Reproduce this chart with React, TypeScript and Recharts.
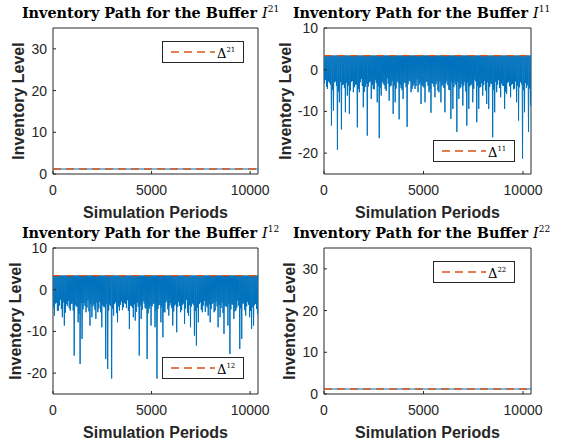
import { LineChart, Line, XAxis, YAxis, ReferenceArea, Legend } from "recharts";

// sampled simulation periods / tick labels
const periodTicks = [0, 5000, 10000];
const flatTicks = [0, 10, 20, 30];
const deepTicks = [-20, -10, 0, 10];

// buffers 21 and 22 sit flat on their target level
const flatPeriods = [0, 10400];
const i21Level = [1.2, 1.2];
const i22Level = [1.2, 1.2];
const delta21 = 1.2;
const delta22 = 1.2;

// buffers 11 and 12: path hits the cap every cycle. per 100 periods one shallow
// "body" trough and one dip/spike
const delta11 = 3.4;
const delta12 = 3.4;

const i11Body = [
  -3.2, -4.1, -2.8, -3.6, -4.8, -3.0, -3.9, -5.2, -2.9, -3.7,
  -4.4, -3.1, -3.8, -5.0, -2.7, -4.2, -3.5, -4.6, -3.0, -3.9,
  -5.3, -3.3, -4.0, -2.8, -3.6, -4.7, -3.2, -3.9, -4.4, -2.9,
  -3.7, -5.1, -3.4, -4.0, -2.7, -3.8, -4.5, -3.1, -3.6, -4.9,
  -3.0, -4.2, -3.5, -2.8, -4.6, -3.3, -3.9, -5.4, -3.1, -3.7,
  -4.3, -2.9, -3.8, -4.7, -3.2, -4.1, -3.5, -5.0, -2.8, -3.9,
  -4.4, -3.3, -3.7, -4.9, -3.0, -4.2, -3.6, -2.9, -4.5, -3.4,
  -3.8, -5.2, -3.1, -4.0, -3.5, -4.6, -2.8, -3.9, -4.3, -3.2,
  -3.7, -5.0, -3.0, -4.1, -3.4, -4.8, -2.9, -3.6, -4.4, -3.3,
  -3.9, -5.3, -3.1, -4.0, -3.6, -4.7, -2.8, -3.8, -4.2, -3.5,
  -4.9, -3.2, -3.7, -4.5, -3.0,
];
const i11Dips = [
  -2.4, -4.6, -3.1, -13.4, -9.8, -2.8, -19.2, -7.8, -14.3, -3.5,
  -10.2, -6.2, -10.6, -2.9, -5.4, -3.6, -13.8, -5.4, -2.2, -9.0,
  -4.1, -15.8, -3.0, -7.0, -4.6, -2.5, -7.8, -16.4, -6.2, -3.3,
  -4.6, -2.1, -7.4, -3.8, -10.6, -7.8, -2.7, -11.9, -4.4, -7.0,
  -3.2, -13.7, -2.6, -5.4, -3.9, -4.6, -2.3, -3.6, -8.2, -4.0,
  -7.8, -2.9, -5.4, -10.3, -3.4, -6.6, -2.8, -5.4, -7.8, -3.5,
  -10.2, -2.6, -4.8, -11.8, -9.4, -3.1, -14.9, -7.0, -4.2, -8.6,
  -2.9, -13.4, -9.4, -3.7, -7.8, -2.4, -12.6, -9.4, -4.1, -6.2,
  -2.7, -8.2, -9.4, -3.3, -16.2, -10.2, -5.4, -2.5, -6.6, -3.8,
  -9.4, -5.8, -2.9, -6.6, -3.4, -4.5, -7.8, -12.2, -3.0, -21.3,
  -10.2, -4.3, -14.9, -8.6, -3.6,
];

const i12Body = [
  -4.2, -3.3, -5.1, -3.8, -4.6, -3.0, -5.5, -3.9, -4.4, -3.4,
  -5.0, -3.6, -4.1, -5.8, -3.2, -4.7, -3.9, -4.3, -5.2, -3.5,
  -4.0, -4.8, -3.1, -4.5, -5.4, -3.7, -4.2, -3.3, -5.0, -3.9,
  -4.6, -3.4, -5.6, -4.0, -3.6, -4.9, -3.2, -4.4, -5.1, -3.8,
  -4.3, -3.5, -5.3, -4.1, -3.7, -4.8, -3.3, -4.5, -5.7, -3.9,
  -4.0, -3.4, -5.0, -4.6, -3.6, -4.2, -5.4, -3.1, -4.7, -3.8,
  -4.4, -5.2, -3.5, -4.1, -3.9, -4.9, -3.3, -4.5, -5.5, -3.7,
  -4.0, -3.6, -5.1, -4.3, -3.4, -4.8, -3.8, -5.3, -4.2, -3.5,
  -4.6, -3.2, -5.0, -4.0, -3.7, -4.4, -5.6, -3.9, -4.1, -3.4,
  -4.7, -3.6, -5.2, -4.3, -3.8, -4.5, -3.3, -4.9, -4.0, -3.6,
  -5.1, -4.2, -3.7, -4.6, -3.9,
];
const i12Dips = [
  -6.2, -3.1, -5.0, -2.4, -6.6, -8.6, -3.4, -2.7, -5.0, -3.3,
  -15.8, -4.0, -7.8, -17.8, -11.8, -3.2, -5.4, -2.6, -8.6, -6.6,
  -3.5, -7.0, -5.4, -2.9, -9.0, -4.1, -16.6, -19.0, -3.6, -21.3,
  -6.2, -3.0, -7.8, -5.0, -2.8, -4.2, -3.4, -2.5, -9.4, -3.9,
  -6.6, -7.4, -3.1, -15.8, -7.0, -2.7, -4.4, -16.6, -4.6, -8.6,
  -3.3, -9.0, -21.3, -3.7, -7.8, -11.4, -5.4, -2.6, -6.2, -3.2,
  -8.6, -3.8, -10.2, -2.9, -5.4, -3.6, -8.2, -2.4, -6.2, -9.0,
  -3.3, -11.0, -13.4, -7.8, -3.0, -5.4, -2.7, -3.8, -6.2, -7.8,
  -3.4, -5.4, -2.8, -9.0, -6.6, -3.1, -10.6, -4.0, -8.6, -15.4,
  -3.5, -7.0, -5.0, -2.6, -14.2, -11.8, -3.3, -6.2, -2.9, -6.6,
  -9.4, -8.6, -3.4, -5.8, -2.8,
];

const BLUE = "#0072BD";
const ORANGE = "#D95319";
const INK = "#262626";
const SANS = "'Liberation Sans', Arial, sans-serif";
const SERIF = "'DejaVu Serif', serif";

type Pt = { t: number; v: number; d: number };

const flatRows = (levels: number[], delta: number): Pt[] =>
  flatPeriods.map((t, i) => ({ t, v: levels[i], d: delta }));

const cycleRows = (body: number[], dips: number[], cap: number): Pt[] =>
  dips.flatMap((dip, i) => [
    { t: i * 100, v: cap, d: cap },
    { t: i * 100 + 25, v: body[i], d: cap },
    { t: i * 100 + 50, v: cap, d: cap },
    { t: i * 100 + 75, v: dip, d: cap },
  ]);

const legendBox = (buffer: string) => () => (
  <div style={{ width: 80, height: 20, border: `1px solid ${INK}`, background: "#fff", display: "flex", alignItems: "center" }}>
    <svg width={54} height={20}>
      <line x1={8} x2={52} y1={10} y2={10} stroke={ORANGE} strokeWidth={1.3} strokeDasharray="8 5" />
    </svg>
    <span style={{ fontFamily: SERIF, fontSize: 13, color: "#000", lineHeight: "20px" }}>
      Δ<sup style={{ fontSize: 7, verticalAlign: "6px" }}>{buffer}</sup>
    </span>
  </div>
);

type PanelProps = {
  left: number;
  top: number;
  rightMargin: number;
  data: Pt[];
  yDomain: [number, number];
  yTicks: number[];
  buffer: string;
  legendTop: number;
  yLabelX: number;
};

function Panel({ left, top, rightMargin, data, yDomain, yTicks, buffer, legendTop, yLabelX }: PanelProps) {
  return (
    <div style={{ position: "absolute", left, top, width: 280, height: 220 }}>
      <LineChart width={280} height={220} data={data} margin={{ top: 28, right: rightMargin, left: 0, bottom: 0 }}>
        <XAxis
          dataKey="t" type="number" domain={[0, 10400]} ticks={periodTicks} allowDataOverflow
          height={46} axisLine={false} tickSize={-3} tickMargin={14}
          tickLine={{ stroke: INK }} tick={{ fontSize: 14, fill: INK, fontFamily: SANS }}
          label={{ value: "Simulation Periods", position: "insideBottom", offset: 2, style: { fontSize: 16, fontWeight: 700, fill: INK, fontFamily: SANS } }}
        />
        <YAxis
          type="number" domain={yDomain} ticks={yTicks} allowDataOverflow
          width={53} axisLine={false} tickSize={-3} tickMargin={9}
          tickLine={{ stroke: INK }} tick={{ fontSize: 14, fill: INK, fontFamily: SANS }}
          label={{ value: "Inventory Level", angle: -90, position: "center", dx: yLabelX - 26.5, style: { fontSize: 16, fontWeight: 700, fill: INK, fontFamily: SANS } }}
        />
        <Line dataKey="v" stroke={BLUE} strokeWidth={1} dot={false} isAnimationActive={false} />
        <Line dataKey="d" stroke={ORANGE} strokeWidth={1.3} strokeDasharray="8 5" dot={false} isAnimationActive={false} />
        <ReferenceArea x1={0} x2={10400} y1={yDomain[0]} y2={yDomain[1]} fill="none" stroke={INK} strokeWidth={1} />
        <Legend
          layout="horizontal" verticalAlign="middle" align="center"
          wrapperStyle={{ position: "absolute", left: 162, top: legendTop, width: 82 }}
          content={legendBox(buffer)}
        />
      </LineChart>
      <div
        style={{
          position: "absolute", left: 0.5, top: 4, width: 300, textAlign: "center", whiteSpace: "nowrap",
          fontFamily: SERIF, fontWeight: 700, fontSize: 14.4, lineHeight: "17px", color: "#000",
        }}
      >
        Inventory Path for the Buffer{" "}
        <span style={{ fontStyle: "italic", fontWeight: 400 }}>I</span>
        <sup style={{ fontSize: 9, fontWeight: 400, lineHeight: 0 }}>{buffer}</sup>
      </div>
    </div>
  );
}

export default function App() {
  return (
    <div style={{ position: "fixed", left: 0, top: 0, width: 561, height: 446, background: "#fff", overflow: "hidden" }}>
      <Panel left={0} top={0} rightMargin={22} data={flatRows(i21Level, delta21)} yDomain={[0, 35]} yTicks={flatTicks} buffer="21" legendTop={41} yLabelX={18} />
      <Panel left={271} top={0} rightMargin={20} data={cycleRows(i11Body, i11Dips, delta11)} yDomain={[-25, 10]} yTicks={deepTicks} buffer="11" legendTop={140} yLabelX={14} />
      <Panel left={0} top={220} rightMargin={22} data={cycleRows(i12Body, i12Dips, delta12)} yDomain={[-25, 10]} yTicks={deepTicks} buffer="12" legendTop={137} yLabelX={15} />
      <Panel left={271} top={220} rightMargin={20} data={flatRows(i22Level, delta22)} yDomain={[0, 35]} yTicks={flatTicks} buffer="22" legendTop={41} yLabelX={18} />
    </div>
  );
}
